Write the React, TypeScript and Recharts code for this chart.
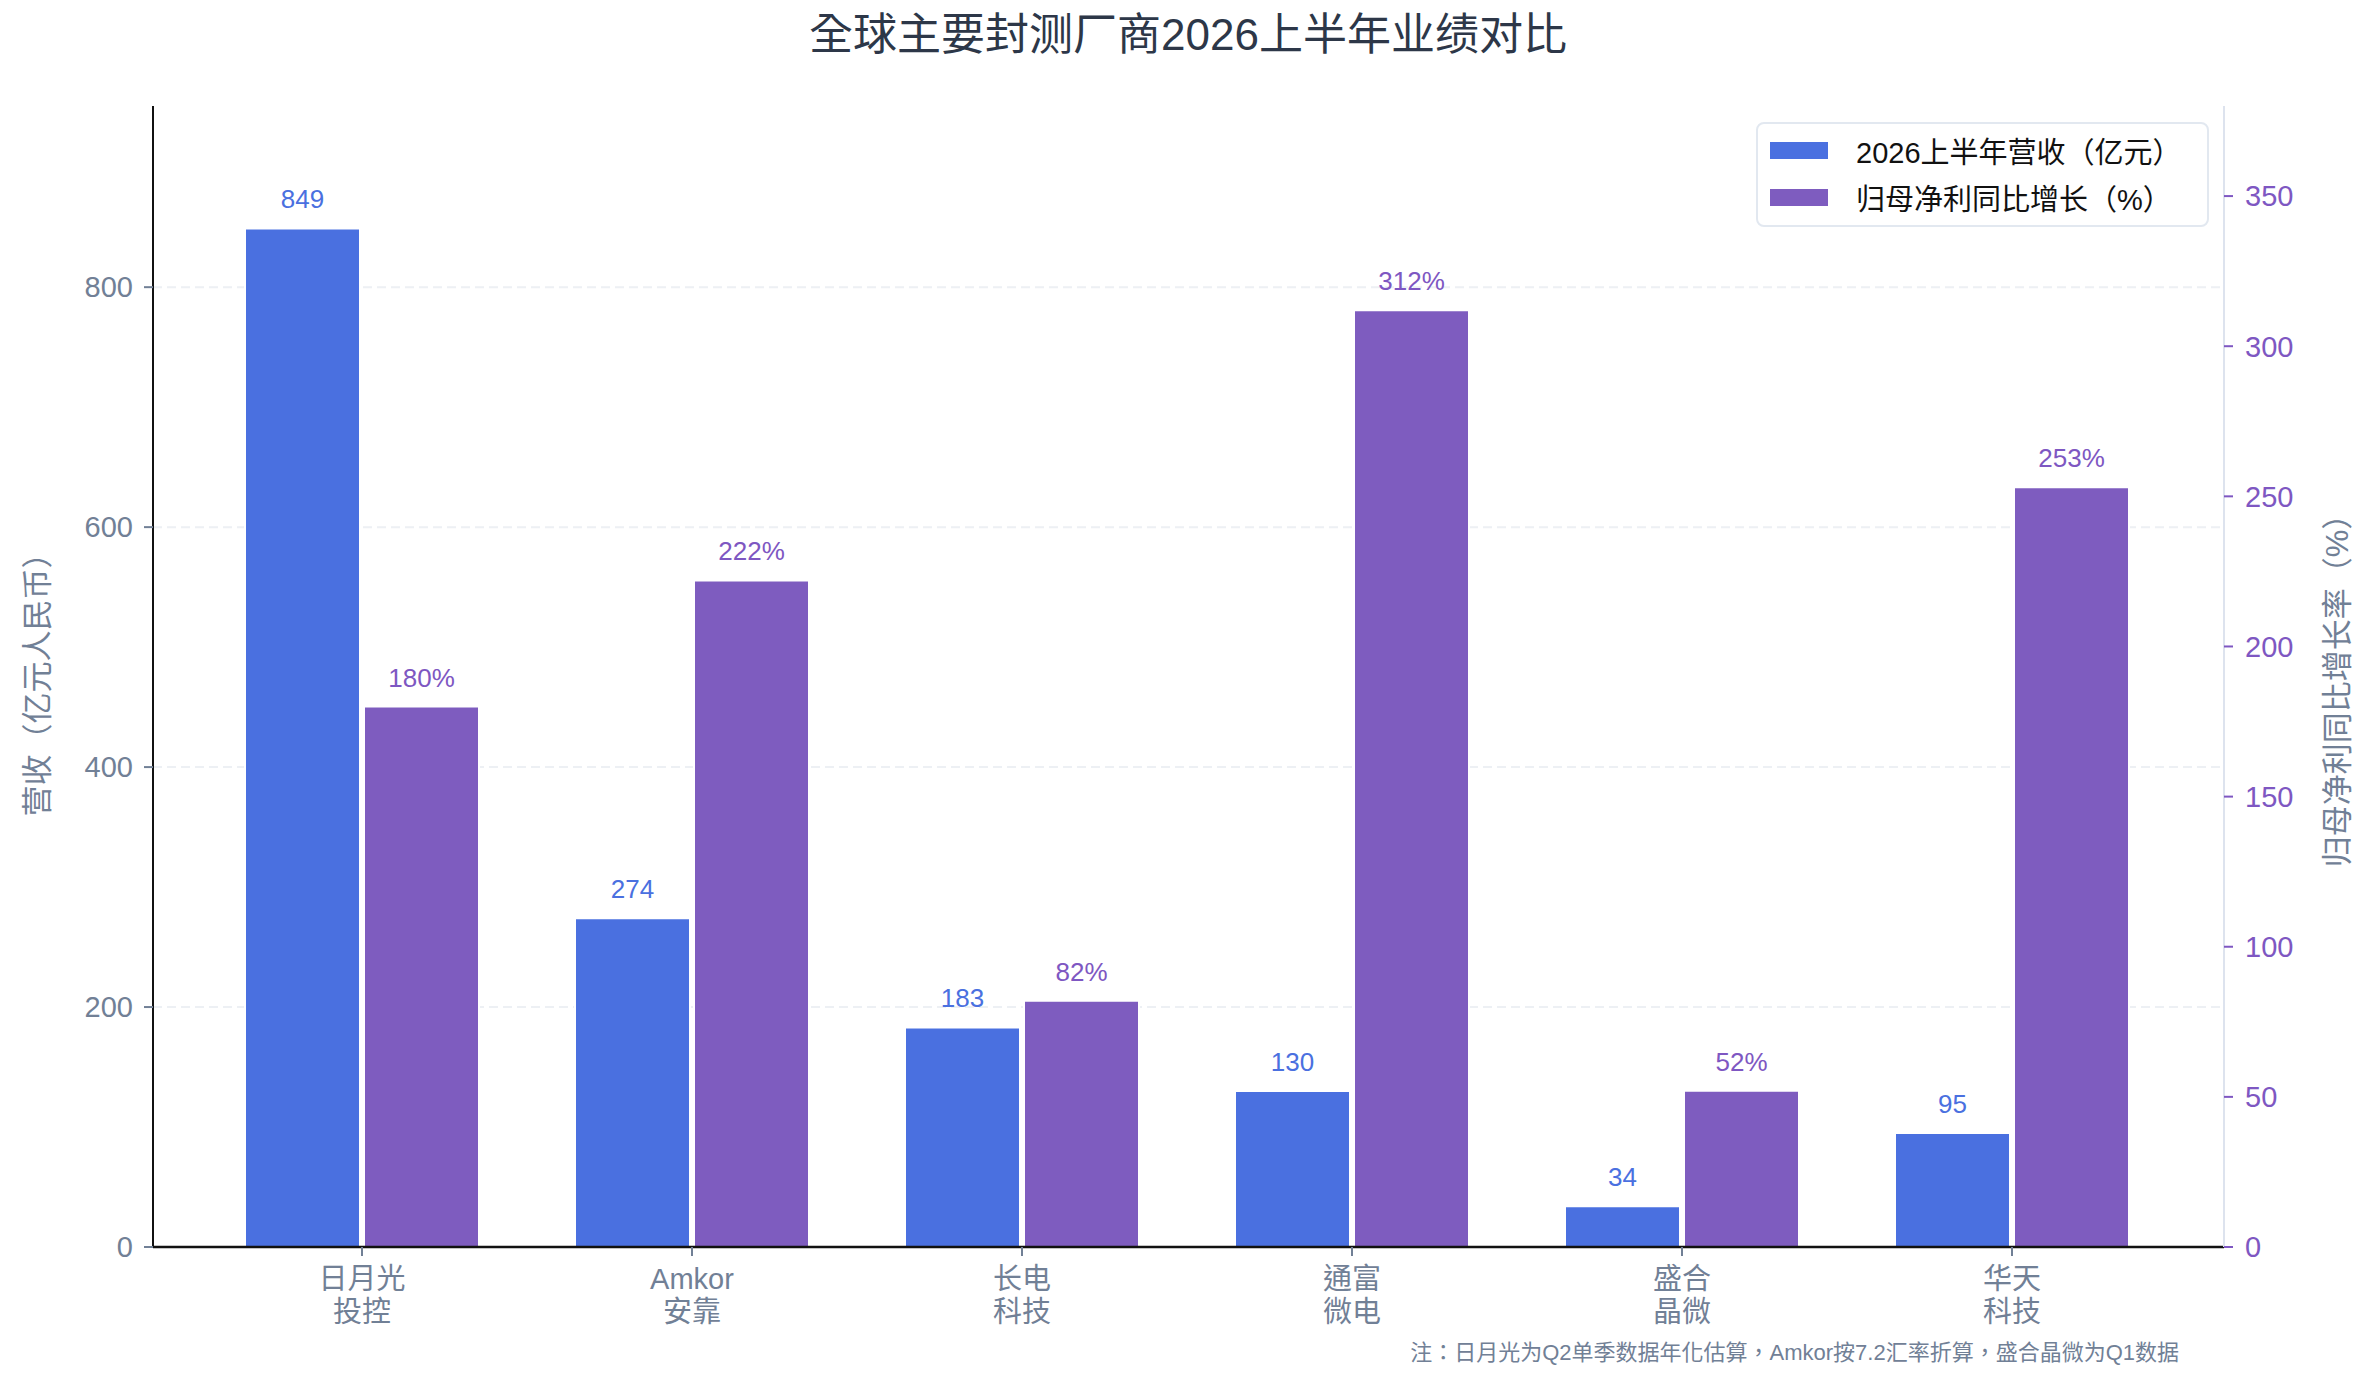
import React from 'react';
import { BarChart, Bar, XAxis, YAxis, CartesianGrid, Legend, LabelList } from 'recharts';

const companies = ['日月光\n投控', 'Amkor\n安靠', '长电\n科技', '通富\n微电', '盛合\n晶微', '华天\n科技'];
const revenue = [849, 274, 183, 130, 34, 95];
const profitGrowth = [180, 222, 82, 312, 52, 253];
const leftTicks = [0, 200, 400, 600, 800];
const rightTicks = [0, 50, 100, 150, 200, 250, 300, 350];
const gridValues = [200, 400, 600, 800];

const FONT = "'Liberation Sans', 'Noto Sans CJK TC', 'Noto Sans CJK SC', sans-serif";
const BLUE = '#4a70e0';
const PURPLE = '#7e5cbf';
const PURPLE_TEXT = '#7e57c2';
const SLATE = '#718096';

const chartData = companies.map((name, i) => ({
  name,
  revenue: revenue[i],
  growth: profitGrowth[i],
}));

const CategoryTick = ({ x, y, payload }: any) => {
  const lines = String(payload.value).split('\n');
  return (
    <text x={x} y={y} textAnchor="middle" fill={SLATE} fontSize={29} fontFamily={FONT}>
      {lines.map((line, i) => (
        <tspan key={i} x={x} dy={i === 0 ? 31 : 33}>
          {line}
        </tspan>
      ))}
    </text>
  );
};

const LegendBox = ({ payload }: any) => (
  <div
    style={{
      width: 449,
      height: 101,
      border: '2px solid #e2e8f0',
      borderRadius: 8,
      background: 'rgba(255,255,255,0.9)',
      position: 'relative',
      fontFamily: FONT,
    }}
  >
    {(payload || []).map((item: any, i: number) => (
      <div
        key={i}
        style={{
          position: 'absolute',
          left: 12,
          top: 26 + i * 47 - 20,
          height: 40,
          display: 'flex',
          alignItems: 'center',
          whiteSpace: 'nowrap',
        }}
      >
        <div style={{ width: 58, height: 17, background: item.color, marginRight: 28 }} />
        <span style={{ fontSize: 29, color: '#111' }}>{item.value}</span>
      </div>
    ))}
  </div>
);

export default function App() {
  return (
    <div style={{ position: 'absolute', left: 0, top: 0, width: 2376, height: 1386, background: '#fff' }}>
      <BarChart
        width={2376}
        height={1386}
        data={chartData}
        margin={{ top: 106, right: 0, left: 0, bottom: 0 }}
      >
        <CartesianGrid
          yAxisId="left"
          vertical={false}
          horizontalValues={gridValues}
          stroke="#edf0f4"
          strokeWidth={2}
          strokeDasharray="9 5"
        />
        <XAxis
          dataKey="name"
          height={139}
          padding={{ left: 44, right: 47 }}
          tick={<CategoryTick />}
          tickSize={9}
          tickLine={{ stroke: SLATE, strokeWidth: 2 }}
          axisLine={{ stroke: '#111', strokeWidth: 2.5 }}
          interval={0}
        />
        <YAxis
          yAxisId="left"
          width={153}
          domain={[0, 951]}
          ticks={leftTicks}
          tickSize={9}
          tickMargin={11}
          tick={{ fill: SLATE, fontSize: 29, fontFamily: FONT }}
          tickLine={{ stroke: SLATE, strokeWidth: 2 }}
          axisLine={{ stroke: '#111', strokeWidth: 2 }}
        />
        <YAxis
          yAxisId="right"
          orientation="right"
          width={152}
          domain={[0, 380]}
          ticks={rightTicks}
          tickSize={9}
          tickMargin={12}
          tick={{ fill: PURPLE_TEXT, fontSize: 29, fontFamily: FONT }}
          tickLine={{ stroke: PURPLE_TEXT, strokeWidth: 2 }}
          axisLine={{ stroke: '#dde3ee', strokeWidth: 2 }}
        />
        <Legend
          layout="vertical"
          align="center"
          verticalAlign="middle"
          content={<LegendBox />}
          wrapperStyle={{ top: 122, left: 1756, width: 453, height: 105, right: 'auto', bottom: 'auto' }}
        />
        <Bar
          yAxisId="left"
          dataKey="revenue"
          name="2026上半年营收（亿元）"
          fill={BLUE}
          stroke="#fff"
          strokeWidth={2}
          barSize={115}
          isAnimationActive={false}
        >
          <LabelList
            dataKey="revenue"
            position="top"
            offset={20}
            fill={BLUE}
            fontSize={26}
            fontFamily={FONT}
          />
        </Bar>
        <Bar
          yAxisId="right"
          dataKey="growth"
          name="归母净利同比增长（%）"
          fill={PURPLE}
          stroke="#fff"
          strokeWidth={2}
          barSize={115}
          isAnimationActive={false}
        >
          <LabelList
            dataKey="growth"
            position="top"
            offset={20}
            fill={PURPLE_TEXT}
            fontSize={26}
            fontFamily={FONT}
            formatter={(v: any) => `${v}%`}
          />
        </Bar>
      </BarChart>
      <svg
        width={2376}
        height={1386}
        style={{ position: 'absolute', left: 0, top: 0, pointerEvents: 'none' }}
        fontFamily={FONT}
      >
        <text x={1188} y={50} textAnchor="middle" fontSize={44} fill="#2d3748">
          全球主要封测厂商2026上半年业绩对比
        </text>
        <text
          x={37}
          y={677}
          textAnchor="middle"
          dominantBaseline="central"
          fontSize={31}
          fill={SLATE}
          transform="rotate(-90 37 677)"
        >
          营收（亿元人民币）
        </text>
        <text
          x={2337}
          y={683}
          textAnchor="middle"
          dominantBaseline="central"
          fontSize={31}
          fill={SLATE}
          transform="rotate(-90 2337 683)"
        >
          归母净利同比增长率（%）
        </text>
        <text x={2179} y={1360} textAnchor="end" fontSize={22} fill={SLATE}>
          注：日月光为Q2单季数据年化估算，Amkor按7.2汇率折算，盛合晶微为Q1数据
        </text>
      </svg>
    </div>
  );
}
